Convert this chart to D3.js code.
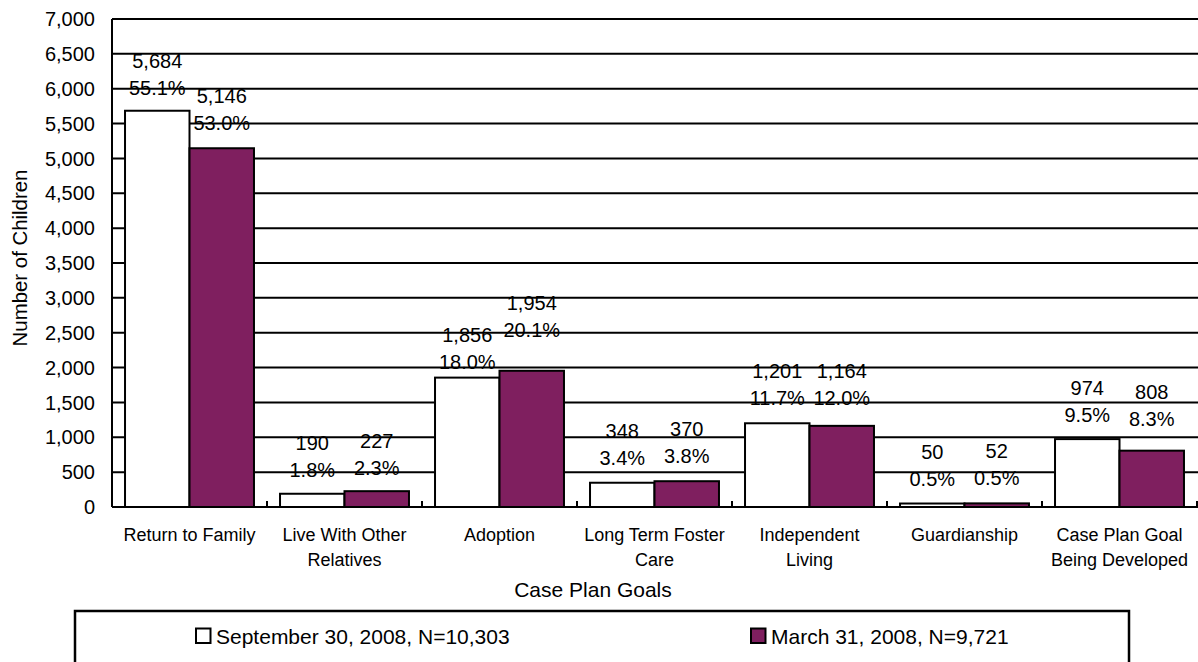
<!DOCTYPE html>
<html>
<head>
<meta charset="utf-8">
<script src="https://cdn.jsdelivr.net/npm/d3@7"></script>
<style>
  body { margin: 0; background: #fff; }
  svg { display: block; font-family: "Liberation Sans", Arial, sans-serif; }
</style>
</head>
<body>
<svg id="chart" width="1198" height="662"></svg>
<script>
// ---- data ----
const categories = ["Return to Family", "Live With Other Relatives", "Adoption",
  "Long Term Foster Care", "Independent Living", "Guardianship", "Case Plan Goal Being Developed"];
const categoryLines = [["Return to Family"], ["Live With Other", "Relatives"], ["Adoption"],
  ["Long Term Foster", "Care"], ["Independent", "Living"], ["Guardianship"], ["Case Plan Goal", "Being Developed"]];
const seriesNames = ["September 30, 2008, N=10,303", "March 31, 2008, N=9,721"];
const sep2008 = [5684, 190, 1856, 348, 1201, 50, 974];
const mar2008 = [5146, 227, 1954, 370, 1164, 52, 808];
const sep2008Pct = ["55.1%", "1.8%", "18.0%", "3.4%", "11.7%", "0.5%", "9.5%"];
const mar2008Pct = ["53.0%", "2.3%", "20.1%", "3.8%", "12.0%", "0.5%", "8.3%"];
const yTicks = [0, 500, 1000, 1500, 2000, 2500, 3000, 3500, 4000, 4500, 5000, 5500, 6000, 6500, 7000];

// label nudges (pixels, upward positive) to mimic hand-placed labels
const labelNudge = [[0, 2], [1, 0], [-7, 18], [2, 2], [2, 5], [2, 2], [1, 9]];

const colors = ["#ffffff", "#7f1f5f"];
const svg = d3.select("#chart");
const pLeft = 112, pRight = 1197, pTop = 19, pBottom = 507;

const x0 = d3.scaleBand().domain(categories).range([pLeft, pRight]).paddingInner(0).paddingOuter(0);
const bw = x0.bandwidth();
const x1 = d3.scaleBand().domain([0, 1]).range([bw * 0.084, bw * (1 - 0.084)]).padding(0);
const y = d3.scaleLinear().domain([0, 7000]).range([pBottom, pTop]);

// gridlines
svg.append("g").selectAll("line").data(yTicks.filter(d => d > 0)).join("line")
  .attr("x1", pLeft).attr("x2", 1198)
  .attr("y1", d => y(d)).attr("y2", d => y(d))
  .attr("stroke", "#000").attr("stroke-width", 2);

// y tick labels
svg.append("g").selectAll("text").data(yTicks).join("text")
  .attr("x", 95).attr("y", d => y(d)).attr("dy", "0.36em")
  .attr("text-anchor", "end").attr("font-size", 20).attr("fill", "#000")
  .text(d => d3.format(",")(d));

// bars
const rows = categories.map((c, i) => ({ c, i, vals: [sep2008[i], mar2008[i]], pcts: [sep2008Pct[i], mar2008Pct[i]] }));
const groups = svg.append("g").selectAll("g").data(rows).join("g")
  .attr("transform", d => `translate(${x0(d.c)},0)`);

groups.selectAll("rect").data(d => d.vals.map((v, s) => ({ v, s }))).join("rect")
  .attr("x", d => x1(d.s)).attr("width", x1.bandwidth())
  .attr("y", d => y(d.v)).attr("height", d => y(0) - y(d.v))
  .attr("fill", d => colors[d.s]).attr("stroke", "#000").attr("stroke-width", 2);

// value labels
groups.each(function(d) {
  const g = d3.select(this);
  d.vals.forEach((v, s) => {
    const cx = x1(s) + x1.bandwidth() / 2;
    const base = y(v) - 16 - labelNudge[d.i][s];
    g.append("text").attr("x", cx).attr("y", base).attr("text-anchor", "middle")
      .attr("font-size", 20).attr("fill", "#000").text(d.pcts[s]);
    g.append("text").attr("x", cx).attr("y", base - 27).attr("text-anchor", "middle")
      .attr("font-size", 20).attr("fill", "#000").text(d3.format(",")(v));
  });
});

// axes lines
svg.append("line").attr("x1", pLeft).attr("x2", pLeft).attr("y1", pTop).attr("y2", pBottom)
  .attr("stroke", "#000").attr("stroke-width", 2);
svg.append("line").attr("x1", pLeft).attr("x2", pRight + 1).attr("y1", pBottom).attr("y2", pBottom)
  .attr("stroke", "#000").attr("stroke-width", 2);
// category separators ticks
svg.append("g").selectAll("line").data(categories).join("line")
  .attr("x1", d => x0(d) + bw).attr("x2", d => x0(d) + bw)
  .attr("y1", pBottom).attr("y2", pBottom - 6)
  .attr("stroke", "#000").attr("stroke-width", 2);

// category labels
const cl = svg.append("g").selectAll("text").data(categories).join("text")
  .attr("x", d => x0(d) + bw / 2).attr("y", 541)
  .attr("text-anchor", "middle").attr("font-size", 18).attr("fill", "#000");
cl.selectAll("tspan").data((d, i) => categoryLines[i]).join("tspan")
  .attr("x", function() { return d3.select(this.parentNode).attr("x"); })
  .attr("dy", (d, i) => i === 0 ? 0 : 24.5).text(d => d);

// axis titles
svg.append("text").attr("x", 593).attr("y", 597)
  .attr("text-anchor", "middle").attr("font-size", 21).text("Case Plan Goals");
svg.append("text").attr("transform", "translate(27,258) rotate(-90)")
  .attr("text-anchor", "middle").attr("font-size", 20.4).text("Number of Children");

// legend
svg.append("rect").attr("x", 75).attr("y", 611).attr("width", 1054).attr("height", 70)
  .attr("fill", "#fff").attr("stroke", "#000").attr("stroke-width", 2.5);
const legX = [196, 751];
seriesNames.forEach((name, s) => {
  svg.append("rect").attr("x", legX[s]).attr("y", 628.5).attr("width", 14.5).attr("height", 14.5)
    .attr("fill", colors[s]).attr("stroke", "#000").attr("stroke-width", 2);
  svg.append("text").attr("x", legX[s] + 20).attr("y", 643.5).attr("font-size", 21).text(name);
});
</script>
</body>
</html>
